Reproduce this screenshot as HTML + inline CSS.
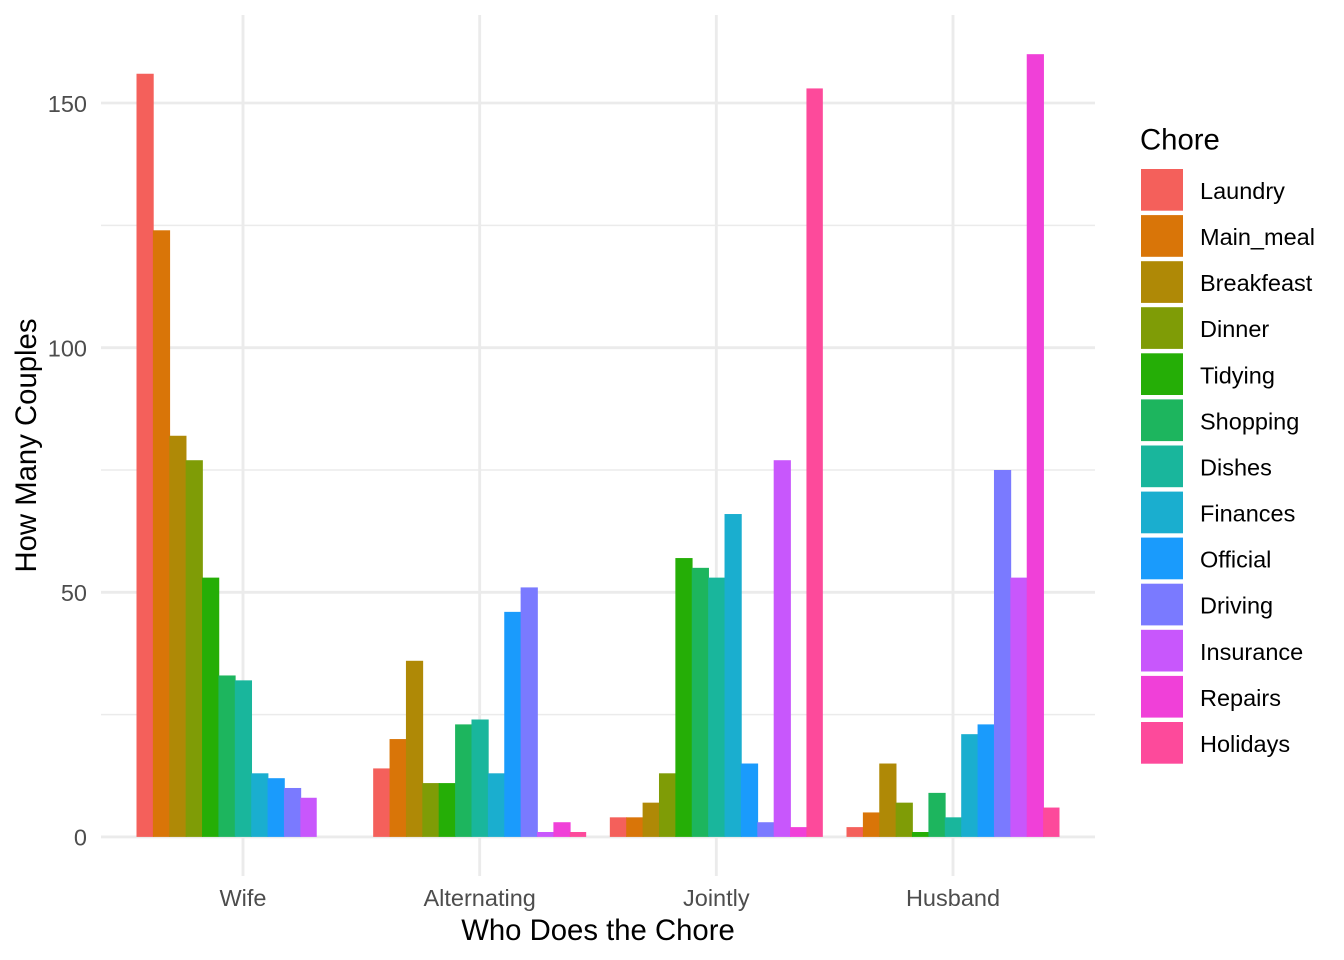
<!DOCTYPE html>
<html>
<head>
<meta charset="utf-8">
<style>
  html, body { margin: 0; padding: 0; background: #ffffff; }
  svg { display: block; }
  text { font-family: "Liberation Sans", Arial, sans-serif; }
</style>
</head>
<body>
<svg width="1344" height="960" viewBox="0 0 1344 960" xmlns="http://www.w3.org/2000/svg">
  <rect x="0" y="0" width="1344" height="960" fill="#ffffff"/>

  <!-- minor horizontal gridlines -->
  <g stroke="#EBEBEB" stroke-width="1.45">
    <line x1="101" y1="714.6" x2="1095" y2="714.6"/>
    <line x1="101" y1="470.0" x2="1095" y2="470.0"/>
    <line x1="101" y1="225.4" x2="1095" y2="225.4"/>
  </g>
  <!-- major gridlines -->
  <g stroke="#EBEBEB" stroke-width="2.85">
    <line x1="101" y1="836.9" x2="1095" y2="836.9"/>
    <line x1="101" y1="592.3" x2="1095" y2="592.3"/>
    <line x1="101" y1="347.7" x2="1095" y2="347.7"/>
    <line x1="101" y1="103.0" x2="1095" y2="103.0"/>
    <line x1="243" y1="15" x2="243" y2="876"/>
    <line x1="479.67" y1="15" x2="479.67" y2="876"/>
    <line x1="716.33" y1="15" x2="716.33" y2="876"/>
    <line x1="953" y1="15" x2="953" y2="876"/>
  </g>

  <!-- Bars -->
  <!-- Wife -->
  <g transform="translate(136.5,836.9) scale(16.385,-4.892)">
    <rect x="0" y="0" width="1.05" height="156" fill="#F4605B"/>
    <rect x="1" y="0" width="1.05" height="124" fill="#D97508"/>
    <rect x="2" y="0" width="1.05" height="82" fill="#AF8906"/>
    <rect x="3" y="0" width="1.05" height="77" fill="#7F9C06"/>
    <rect x="4" y="0" width="1.05" height="53" fill="#25AE06"/>
    <rect x="5" y="0" width="1.05" height="33" fill="#1DB55E"/>
    <rect x="6" y="0" width="1.05" height="32" fill="#19B69C"/>
    <rect x="7" y="0" width="1.05" height="13" fill="#1AAECF"/>
    <rect x="8" y="0" width="1.05" height="12" fill="#1A9BFC"/>
    <rect x="9" y="0" width="1.05" height="10" fill="#7A7AFF"/>
    <rect x="10" y="0" width="1" height="8" fill="#C857FC"/>
  </g>
  <!-- Alternating -->
  <g transform="translate(373.17,836.9) scale(16.385,-4.892)">
    <rect x="0" y="0" width="1.05" height="14" fill="#F4605B"/>
    <rect x="1" y="0" width="1.05" height="20" fill="#D97508"/>
    <rect x="2" y="0" width="1.05" height="36" fill="#AF8906"/>
    <rect x="3" y="0" width="1.05" height="11" fill="#7F9C06"/>
    <rect x="4" y="0" width="1.05" height="11" fill="#25AE06"/>
    <rect x="5" y="0" width="1.05" height="23" fill="#1DB55E"/>
    <rect x="6" y="0" width="1.05" height="24" fill="#19B69C"/>
    <rect x="7" y="0" width="1.05" height="13" fill="#1AAECF"/>
    <rect x="8" y="0" width="1.05" height="46" fill="#1A9BFC"/>
    <rect x="9" y="0" width="1.05" height="51" fill="#7A7AFF"/>
    <rect x="10" y="0" width="1.05" height="1" fill="#C857FC"/>
    <rect x="11" y="0" width="1.05" height="3" fill="#F040D8"/>
    <rect x="12" y="0" width="1" height="1" fill="#FD4A9B"/>
  </g>
  <!-- Jointly -->
  <g transform="translate(609.83,836.9) scale(16.385,-4.892)">
    <rect x="0" y="0" width="1.05" height="4" fill="#F4605B"/>
    <rect x="1" y="0" width="1.05" height="4" fill="#D97508"/>
    <rect x="2" y="0" width="1.05" height="7" fill="#AF8906"/>
    <rect x="3" y="0" width="1.05" height="13" fill="#7F9C06"/>
    <rect x="4" y="0" width="1.05" height="57" fill="#25AE06"/>
    <rect x="5" y="0" width="1.05" height="55" fill="#1DB55E"/>
    <rect x="6" y="0" width="1.05" height="53" fill="#19B69C"/>
    <rect x="7" y="0" width="1.05" height="66" fill="#1AAECF"/>
    <rect x="8" y="0" width="1.05" height="15" fill="#1A9BFC"/>
    <rect x="9" y="0" width="1.05" height="3" fill="#7A7AFF"/>
    <rect x="10" y="0" width="1.05" height="77" fill="#C857FC"/>
    <rect x="11" y="0" width="1.05" height="2" fill="#F040D8"/>
    <rect x="12" y="0" width="1" height="153" fill="#FD4A9B"/>
  </g>
  <!-- Husband -->
  <g transform="translate(846.5,836.9) scale(16.385,-4.892)">
    <rect x="0" y="0" width="1.05" height="2" fill="#F4605B"/>
    <rect x="1" y="0" width="1.05" height="5" fill="#D97508"/>
    <rect x="2" y="0" width="1.05" height="15" fill="#AF8906"/>
    <rect x="3" y="0" width="1.05" height="7" fill="#7F9C06"/>
    <rect x="4" y="0" width="1.05" height="1" fill="#25AE06"/>
    <rect x="5" y="0" width="1.05" height="9" fill="#1DB55E"/>
    <rect x="6" y="0" width="1.05" height="4" fill="#19B69C"/>
    <rect x="7" y="0" width="1.05" height="21" fill="#1AAECF"/>
    <rect x="8" y="0" width="1.05" height="23" fill="#1A9BFC"/>
    <rect x="9" y="0" width="1.05" height="75" fill="#7A7AFF"/>
    <rect x="10" y="0" width="1.05" height="53" fill="#C857FC"/>
    <rect x="11" y="0" width="1.05" height="160" fill="#F040D8"/>
    <rect x="12" y="0" width="1" height="6" fill="#FD4A9B"/>
  </g>

  <!-- Y tick labels -->
  <g fill="#4D4D4D" font-size="23.5" text-anchor="end">
    <text x="87" y="845.7">0</text>
    <text x="87" y="601.1">50</text>
    <text x="87" y="356.5">100</text>
    <text x="87" y="111.8">150</text>
  </g>

  <!-- X tick labels -->
  <g fill="#4D4D4D" font-size="23.5" text-anchor="middle">
    <text x="243" y="906">Wife</text>
    <text x="479.67" y="906">Alternating</text>
    <text x="716.33" y="906">Jointly</text>
    <text x="953" y="906">Husband</text>
  </g>

  <!-- Axis titles -->
  <text x="598" y="940" font-size="29.3" fill="#000000" text-anchor="middle">Who Does the Chore</text>
  <text transform="translate(36,445.5) rotate(-90)" x="0" y="0" font-size="29.3" fill="#000000" text-anchor="middle">How Many Couples</text>

  <!-- Legend -->
  <text x="1140" y="149.5" font-size="29.3" fill="#000000">Chore</text>
  <g>
    <rect x="1141" y="169.0" width="42" height="41.7" fill="#F4605B"/>
    <rect x="1141" y="215.1" width="42" height="41.7" fill="#D97508"/>
    <rect x="1141" y="261.2" width="42" height="41.7" fill="#AF8906"/>
    <rect x="1141" y="307.2" width="42" height="41.7" fill="#7F9C06"/>
    <rect x="1141" y="353.3" width="42" height="41.7" fill="#25AE06"/>
    <rect x="1141" y="399.4" width="42" height="41.7" fill="#1DB55E"/>
    <rect x="1141" y="445.5" width="42" height="41.7" fill="#19B69C"/>
    <rect x="1141" y="491.6" width="42" height="41.7" fill="#1AAECF"/>
    <rect x="1141" y="537.6" width="42" height="41.7" fill="#1A9BFC"/>
    <rect x="1141" y="583.7" width="42" height="41.7" fill="#7A7AFF"/>
    <rect x="1141" y="629.8" width="42" height="41.7" fill="#C857FC"/>
    <rect x="1141" y="675.9" width="42" height="41.7" fill="#F040D8"/>
    <rect x="1141" y="722.0" width="42" height="41.7" fill="#FD4A9B"/>
  </g>
  <g fill="#000000" font-size="23.5">
    <text x="1200" y="199.0">Laundry</text>
    <text x="1200" y="245.1">Main_meal</text>
    <text x="1200" y="291.2">Breakfeast</text>
    <text x="1200" y="337.2">Dinner</text>
    <text x="1200" y="383.3">Tidying</text>
    <text x="1200" y="429.4">Shopping</text>
    <text x="1200" y="475.5">Dishes</text>
    <text x="1200" y="521.6">Finances</text>
    <text x="1200" y="567.6">Official</text>
    <text x="1200" y="613.7">Driving</text>
    <text x="1200" y="659.8">Insurance</text>
    <text x="1200" y="705.9">Repairs</text>
    <text x="1200" y="752.0">Holidays</text>
  </g>
</svg>
</body>
</html>
